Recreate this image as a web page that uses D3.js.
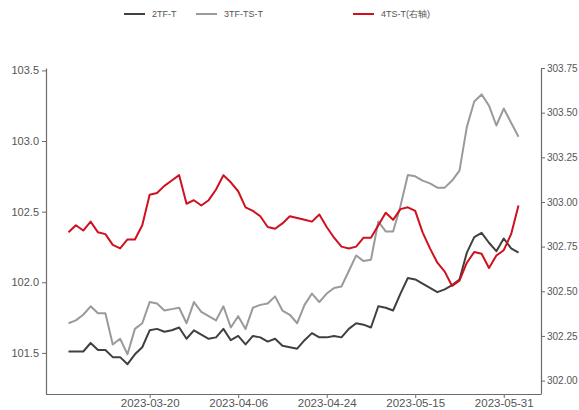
<!DOCTYPE html>
<html>
<head>
<meta charset="utf-8">
<script src="https://cdn.jsdelivr.net/npm/d3@7"></script>
<style>
body { margin: 0; background: #fff; }
text { font-family: "Liberation Sans", Arial, sans-serif; }
</style>
</head>
<body>
<svg id="chart"></svg>
<script>
// trading days shown on the x axis
let dates = [
	'2023-03-03',
	'2023-03-06', '2023-03-07', '2023-03-08', '2023-03-09', '2023-03-10',
	'2023-03-13', '2023-03-14', '2023-03-15', '2023-03-16', '2023-03-17',
	'2023-03-20', '2023-03-21', '2023-03-22', '2023-03-23', '2023-03-24',
	'2023-03-27', '2023-03-28', '2023-03-29', '2023-03-30', '2023-03-31',
	'2023-04-03', '2023-04-04', '2023-04-06', '2023-04-07',
	'2023-04-10', '2023-04-11', '2023-04-12', '2023-04-13', '2023-04-14',
	'2023-04-17', '2023-04-18', '2023-04-19', '2023-04-20', '2023-04-21',
	'2023-04-24', '2023-04-25', '2023-04-26', '2023-04-27', '2023-04-28',
	'2023-05-04', '2023-05-05',
	'2023-05-08', '2023-05-09', '2023-05-10', '2023-05-11', '2023-05-12',
	'2023-05-15', '2023-05-16', '2023-05-17', '2023-05-18', '2023-05-19',
	'2023-05-22', '2023-05-23', '2023-05-24', '2023-05-25', '2023-05-26',
	'2023-05-29', '2023-05-30', '2023-05-31', '2023-06-01', '2023-06-02'
];

// 2TF-T (left axis)
let tf2 = [
	101.51, 101.51, 101.51, 101.57, 101.52, 101.52, 101.47, 101.47, 101.42, 101.49,
	101.54, 101.66, 101.67, 101.65, 101.66, 101.68, 101.60, 101.66, 101.63, 101.60,
	101.61, 101.67, 101.59, 101.62, 101.56, 101.62, 101.61, 101.58, 101.60, 101.55,
	101.54, 101.53, 101.59, 101.64, 101.61, 101.61, 101.62, 101.61, 101.67, 101.71,
	101.70, 101.68, 101.83, 101.82, 101.80, 101.92, 102.03, 102.02, 101.99, 101.96,
	101.93, 101.95, 101.98, 102.02, 102.21, 102.32, 102.35, 102.28, 102.22, 102.31,
	102.24, 102.21
];

// 3TF-TS-T (left axis)
let tf3ts = [
	101.71, 101.73, 101.77, 101.83, 101.78, 101.78, 101.56, 101.60, 101.49, 101.67,
	101.71, 101.86, 101.85, 101.80, 101.81, 101.82, 101.71, 101.86, 101.79, 101.76,
	101.73, 101.83, 101.68, 101.76, 101.67, 101.82, 101.84, 101.85, 101.90, 101.80,
	101.77, 101.71, 101.84, 101.92, 101.86, 101.92, 101.96, 101.97, 102.08, 102.19,
	102.15, 102.16, 102.43, 102.36, 102.36, 102.54, 102.76, 102.75, 102.72, 102.70,
	102.67, 102.67, 102.72, 102.79, 103.10, 103.28, 103.33, 103.25, 103.11, 103.23,
	103.13, 103.03
];

// 4TS-T (right axis)
let ts4 = [
	302.83, 302.87, 302.84, 302.89, 302.83, 302.82, 302.76, 302.74, 302.79, 302.79,
	302.87, 303.04, 303.05, 303.09, 303.12, 303.15, 302.99, 303.01, 302.98, 303.01,
	303.07, 303.15, 303.11, 303.06, 302.97, 302.95, 302.92, 302.86, 302.85, 302.88,
	302.92, 302.91, 302.90, 302.89, 302.93, 302.86, 302.80, 302.75, 302.74, 302.75,
	302.80, 302.80, 302.87, 302.94, 302.90, 302.96, 302.97, 302.95, 302.83, 302.74,
	302.66, 302.61, 302.53, 302.56, 302.66, 302.72, 302.71, 302.63, 302.70, 302.73,
	302.82, 302.98
];

let dateTicks = ['2023-03-20', '2023-04-06', '2023-04-24', '2023-05-15', '2023-05-31'];
let leftTicks = [101.5, 102.0, 102.5, 103.0, 103.5];
let rightTicks = [302.00, 302.25, 302.50, 302.75, 303.00, 303.25, 303.50, 303.75];

let width = 579;
let height = 410;
let plotLeft = 46;
let plotRight = 541;
let plotTop = 68;
let plotBottom = 394;

let axisColor = '#6b6b6b';
let labelColor = '#555';

let series = [
	{ name: '2TF-T', values: tf2, color: '#404040', axis: 'left' },
	{ name: '3TF-TS-T', values: tf3ts, color: '#9a9a9a', axis: 'left' },
	{ name: '4TS-T(右轴)', values: ts4, color: '#d0101e', axis: 'right' }
];

let svg = d3.select('#chart')
	.attr('width', width)
	.attr('height', height);

let xScale = d3.scalePoint()
	.domain(dates)
	.range([plotLeft, plotRight])
	.padding(3.05);

let yLeft = d3.scaleLinear()
	.domain([101.209, 103.517])
	.range([plotBottom, plotTop]);

let yRight = d3.scaleLinear()
	.domain([301.925, 303.75])
	.range([plotBottom, plotTop]);

let styleAxis = (g, size) => {
	g.select('.domain').attr('stroke', axisColor).attr('stroke-width', 1.2);
	g.selectAll('.tick line').attr('stroke', axisColor);
	g.selectAll('.tick text')
		.attr('fill', labelColor)
		.style('font-size', size + 'px')
		.style('font-family', '"Liberation Sans", Arial, sans-serif');
}

let drawAxes = () => {
	let xAxis = d3.axisBottom(xScale)
		.tickValues(dateTicks)
		.tickSize(4)
		.tickPadding(1)
		.tickSizeOuter(0);

	let gx = svg.append('g')
		.attr('transform', `translate(0, ${plotBottom})`)
		.call(xAxis);
	gx.select('.domain').attr('d', `M${plotLeft},0.5H${plotRight}`);
	styleAxis(gx, 11.5);
	gx.selectAll('.tick text').attr('dy', '0.68em');

	let gl = svg.append('g')
		.attr('transform', `translate(${plotLeft}, 0)`)
		.call(d3.axisLeft(yLeft)
			.tickValues(leftTicks)
			.tickFormat(d3.format('.1f'))
			.tickSize(4)
			.tickPadding(3)
			.tickSizeOuter(0));
	styleAxis(gl, 11);

	let gr = svg.append('g')
		.attr('transform', `translate(${plotRight}, 0)`)
		.call(d3.axisRight(yRight)
			.tickValues(rightTicks)
			.tickFormat(d3.format('.2f'))
			.tickSize(4)
			.tickPadding(2)
			.tickSizeOuter(0));
	styleAxis(gr, 10);
}

let drawLines = () => {
	series.forEach((s) => {
		let yScale = s.axis === 'left' ? yLeft : yRight;
		let line = d3.line()
			.x((d, i) => xScale(dates[i]))
			.y((d) => yScale(d));

		svg.append('path')
			.datum(s.values)
			.attr('fill', 'none')
			.attr('stroke', s.color)
			.attr('stroke-width', 2)
			.attr('stroke-linejoin', 'round')
			.attr('d', line);
	});
}

let drawLegend = () => {
	let pos = [124, 196, 353];
	let legend = svg.append('g').attr('id', 'legend');
	series.forEach((s, i) => {
		legend.append('line')
			.attr('x1', pos[i])
			.attr('x2', pos[i] + 21)
			.attr('y1', 14)
			.attr('y2', 14)
			.attr('stroke', s.color)
			.attr('stroke-width', 2);
		legend.append('text')
			.attr('x', pos[i] + 28)
			.attr('y', 17)
			.attr('fill', labelColor)
			.style('font-size', '9px')
			.text(s.name);
	});
}

drawAxes();
drawLines();
drawLegend();
</script>
</body>
</html>
